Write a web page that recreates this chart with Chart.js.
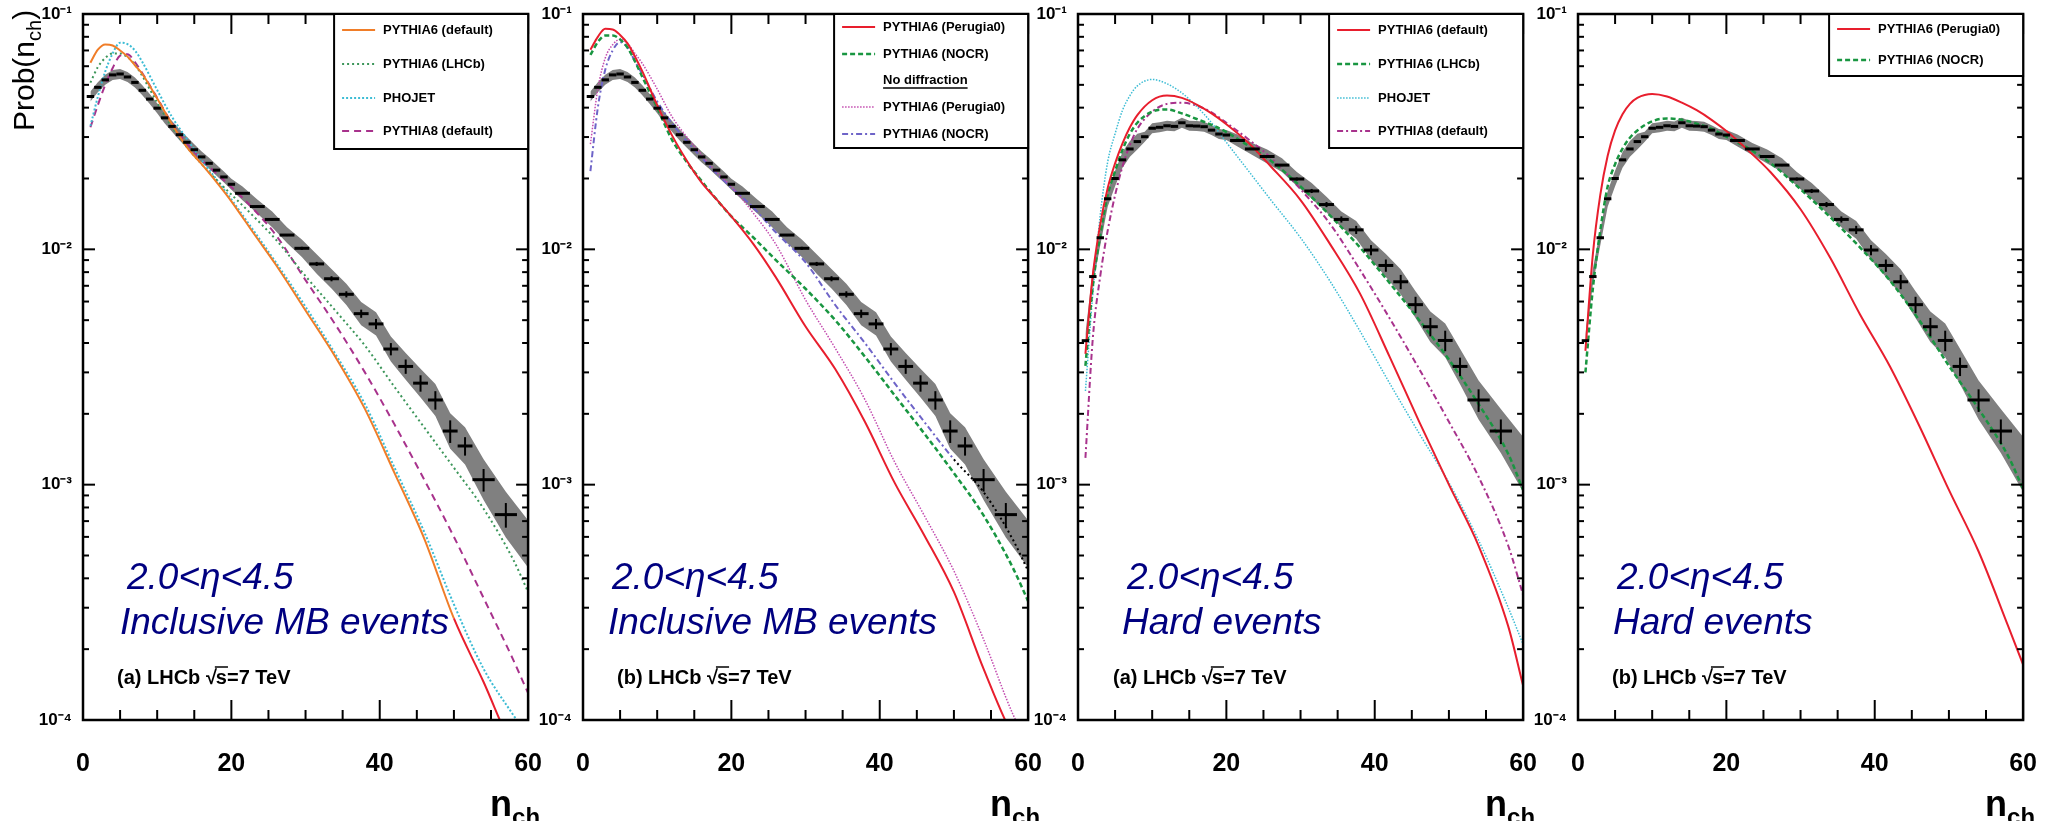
<!DOCTYPE html>
<html lang="en">
<head>
<meta charset="utf-8">
<title>LHCb charged multiplicity, 2.0&lt;η&lt;4.5</title>
<script src="https://cdn.jsdelivr.net/npm/chart.js@4.4.1/dist/chart.umd.min.js"></script>
<style>
  html, body { margin: 0; padding: 0; background: #fff; }
  #figure { position: relative; width: 2058px; height: 821px; overflow: hidden; }
  #figure canvas { position: absolute; top: 0; }
</style>
</head>
<body>
<div id="figure">
  <canvas id="panelA" width="563" height="821" style="left:0px"></canvas>
  <canvas id="panelB" width="563" height="821" style="left:500px"></canvas>
  <canvas id="panelC" width="563" height="821" style="left:995px"></canvas>
  <canvas id="panelD" width="563" height="821" style="left:1495px"></canvas>
</div>
<script>
// ---- measured distributions (bin centres / widths in n_ch) ----
const nchBins = [1, 2, 3, 4, 5, 6, 7, 8, 9, 10, 11, 12, 13, 14, 15, 16, 17, 18, 19, 20,
  21.5, 23.5, 25.5, 27.5, 29.5, 31.5, 33.5, 35.5, 37.5, 39.5, 41.5, 43.5, 45.5, 47.5, 49.5, 51.5, 54, 57];
const binWidth = [1, 1, 1, 1, 1, 1, 1, 1, 1, 1, 1, 1, 1, 1, 1, 1, 1, 1, 1, 1,
  2, 2, 2, 2, 2, 2, 2, 2, 2, 2, 2, 2, 2, 2, 2, 2, 3, 3];

// inclusive minimum bias events
const mbProb = [0.0446, 0.0488, 0.0525, 0.0551, 0.0556, 0.0540, 0.0512, 0.0474, 0.0435, 0.0398,
  0.0362, 0.0333, 0.0307, 0.0285, 0.0265, 0.0247, 0.0232, 0.0217, 0.0203, 0.0189,
  0.0173, 0.0152, 0.0134, 0.0115, 0.0101, 0.00867, 0.00750, 0.00644, 0.00533, 0.00482,
  0.00377, 0.00318, 0.00270, 0.00229, 0.00169, 0.00146, 0.00105, 0.000746];
const mbStat = [0.005, 0.005, 0.005, 0.005, 0.005, 0.005, 0.005, 0.005, 0.005, 0.005,
  0.005, 0.005, 0.005, 0.005, 0.005, 0.005, 0.005, 0.005, 0.005, 0.005,
  0.008, 0.008, 0.01, 0.01, 0.015, 0.02, 0.025, 0.03, 0.04, 0.05,
  0.06, 0.07, 0.08, 0.09, 0.11, 0.09, 0.11, 0.12];
const mbSyst = [1.05, 1.05, 1.05, 1.05, 1.05, 1.05, 1.05, 1.05, 1.05, 1.05,
  1.055, 1.055, 1.055, 1.055, 1.055, 1.055, 1.055, 1.055, 1.055, 1.055,
  1.07, 1.07, 1.08, 1.08, 1.09, 1.10, 1.10, 1.11, 1.12, 1.12,
  1.13, 1.14, 1.15, 1.17, 1.19, 1.20, 1.22, 1.25];
const mbBandEnd = [0.00056, 1.26];      // band value and spread at n_ch = 60

// hard events
const hardProb = [0.00409, 0.00766, 0.0112, 0.0164, 0.0200, 0.0240, 0.0267, 0.0287, 0.0301, 0.0327,
  0.0330, 0.0335, 0.0333, 0.0345, 0.0335, 0.0334, 0.0332, 0.0321, 0.0309, 0.0306,
  0.0290, 0.0267, 0.0248, 0.0228, 0.0199, 0.0177, 0.0155, 0.0134, 0.0121, 0.00993,
  0.00854, 0.00728, 0.00582, 0.00469, 0.00410, 0.00318, 0.00229, 0.00169];
const hardStat = [0.005, 0.005, 0.005, 0.005, 0.005, 0.005, 0.005, 0.005, 0.005, 0.005,
  0.005, 0.005, 0.005, 0.005, 0.005, 0.005, 0.005, 0.005, 0.005, 0.005,
  0.008, 0.008, 0.01, 0.01, 0.015, 0.02, 0.025, 0.03, 0.04, 0.05,
  0.06, 0.07, 0.08, 0.09, 0.10, 0.09, 0.11, 0.12];
const hardSyst = [1.07, 1.08, 1.08, 1.08, 1.08, 1.08, 1.08, 1.08, 1.05, 1.05,
  1.05, 1.05, 1.05, 1.05, 1.05, 1.05, 1.05, 1.05, 1.05, 1.05,
  1.06, 1.06, 1.07, 1.07, 1.07, 1.08, 1.08, 1.08, 1.09, 1.10,
  1.12, 1.13, 1.14, 1.16, 1.18, 1.19, 1.21, 1.24];
const hardBandEnd = [0.00122, 1.31];
const bandEndX = 60;

// ---- generator predictions ----
const curveN = [1, 2, 3, 4, 5, 6, 7, 8, 10, 12, 14, 16, 18, 20, 23, 26, 30, 34, 38, 42, 46, 50, 54, 58, 60];

const mbPythia6Default = [0.0621, 0.0705, 0.0742, 0.0735, 0.0700, 0.0659, 0.0605, 0.0556, 0.0437, 0.0340, 0.0272, 0.0230, 0.0193,
  0.0160, 0.0117, 0.0086, 0.0055, 0.0035, 0.0021, 0.00112, 0.00059, 0.00027, 0.000145, 0.000075, 0.00006];
const mbPythia6Lhcb = [0.0511, 0.0595, 0.0650, 0.0680, 0.0680, 0.0655, 0.0610, 0.0545, 0.0420, 0.0330, 0.0272, 0.0230, 0.0197,
  0.0171, 0.0138, 0.0110, 0.0077, 0.0055, 0.0039, 0.0026, 0.00175, 0.00118, 0.00079, 0.00048, 0.00035];
const mbPhojet = [0.0334, 0.0445, 0.0570, 0.0680, 0.0755, 0.0745, 0.0700, 0.0625, 0.0475, 0.0365, 0.0295, 0.0240, 0.0198,
  0.0163, 0.0120, 0.0088, 0.0057, 0.0036, 0.0022, 0.00118, 0.00063, 0.00031, 0.000165, 0.000105, 0.000085];
const mbPythia8 = [0.0330, 0.0410, 0.0500, 0.0590, 0.0665, 0.0675, 0.0625, 0.0560, 0.0440, 0.0343, 0.0282, 0.0240, 0.0210,
  0.0184, 0.0148, 0.0115, 0.0074, 0.0048, 0.0030, 0.0018, 0.00105, 0.00060, 0.00033, 0.00018, 0.00013];

const mbPerugia0 = [0.0705, 0.0800, 0.0865, 0.0860, 0.0815, 0.0750, 0.0660, 0.0570, 0.0410, 0.0305, 0.0238, 0.0192, 0.0163,
  0.0138, 0.0105, 0.0076, 0.0047, 0.0031, 0.00185, 0.00102, 0.00061, 0.00035, 0.000165, 0.000085, 0.00007];
const mbNocr = [0.0670, 0.0760, 0.0810, 0.0810, 0.0780, 0.0720, 0.0630, 0.0540, 0.0400, 0.0292, 0.0235, 0.0195, 0.0163,
  0.0138, 0.0112, 0.0090, 0.0068, 0.0050, 0.0035, 0.0024, 0.00165, 0.00112, 0.00074, 0.00044, 0.00032];
const mbPerugia0NoDiff = [0.0280, 0.0480, 0.0650, 0.0740, 0.0780, 0.0750, 0.0680, 0.0616, 0.0480, 0.0366, 0.0300, 0.0252, 0.0213,
  0.0185, 0.0142, 0.0105, 0.0061, 0.0038, 0.0023, 0.00125, 0.00074, 0.00043, 0.00022, 0.000105, 0.00008];
const mbNocrNoDiff = [0.0215, 0.0400, 0.0580, 0.0700, 0.0760, 0.0720, 0.0630, 0.0555, 0.0425, 0.0343, 0.0288, 0.0245, 0.0210,
  0.0183, 0.0150, 0.0118, 0.0088, 0.0058, 0.0040, 0.0027, 0.00185, 0.00128, 0.00093, 0.00058, 0.00043];

const hardPythia6Default = [0.0036, 0.0078, 0.0128, 0.0182, 0.0232, 0.0282, 0.0330, 0.0372, 0.0430, 0.0450, 0.0440, 0.0412, 0.0378,
  0.0340, 0.0283, 0.0225, 0.0162, 0.0105, 0.0065, 0.0035, 0.00185, 0.00100, 0.00055, 0.00025, 0.00014];
const hardPythia6Lhcb = [0.0032, 0.0070, 0.0115, 0.0170, 0.0215, 0.0265, 0.0310, 0.0345, 0.0385, 0.0393, 0.0378, 0.0358, 0.0338,
  0.0315, 0.0275, 0.0238, 0.0185, 0.0139, 0.0102, 0.0072, 0.0050, 0.0034, 0.0022, 0.00135, 0.00095];
const hardPhojet = [0.0025, 0.0065, 0.0140, 0.0235, 0.0310, 0.0390, 0.0450, 0.0495, 0.0527, 0.0505, 0.0462, 0.0405, 0.0345,
  0.0285, 0.0215, 0.0162, 0.0112, 0.0073, 0.0045, 0.0027, 0.00165, 0.00102, 0.00058, 0.00030, 0.00021];
const hardPythia8 = [0.0013, 0.0042, 0.0077, 0.0120, 0.0170, 0.0225, 0.0278, 0.0325, 0.0385, 0.0415, 0.0420, 0.0408, 0.0382,
  0.0345, 0.0293, 0.0245, 0.0180, 0.0128, 0.0082, 0.0051, 0.0031, 0.00185, 0.00108, 0.00055, 0.00034];

const hardPerugia0 = [0.0037, 0.0095, 0.0170, 0.0250, 0.0320, 0.0375, 0.0415, 0.0440, 0.0457, 0.0446, 0.0420, 0.0390, 0.0355,
  0.0318, 0.0262, 0.0212, 0.0148, 0.0092, 0.0053, 0.0032, 0.00178, 0.00095, 0.00052, 0.00025, 0.000172];
const hardNocr = [0.0030, 0.0068, 0.0120, 0.0185, 0.0230, 0.0268, 0.0298, 0.0320, 0.0350, 0.0360, 0.0355, 0.0342, 0.0325,
  0.0301, 0.0268, 0.0232, 0.0180, 0.0137, 0.0102, 0.0074, 0.0050, 0.0032, 0.0021, 0.00132, 0.00096];

// axis ticks
const xTickValues = [0, 20, 40, 60];
const yDecades = [1e-4, 1e-3, 1e-2, 1e-1];

// ---- styling ----
const FONT = '"Liberation Sans", Arial, Helvetica, sans-serif';
Chart.defaults.font.family = FONT;

const C = {
  orange: 'rgb(240,125,40)',
  red: 'rgb(232,30,45)',
  green: 'rgb(25,150,65)',
  greenDot: 'rgb(60,150,90)',
  cyan: 'rgb(60,188,212)',
  magenta: 'rgb(168,50,140)',
  pink: 'rgb(195,75,175)',
  violet: 'rgb(110,100,200)',
  band: 'rgb(128,128,128)',
  navy: 'rgb(0,0,128)'
};

const SUP = { '-': '⁻', '0': '⁰', '1': '¹', '2': '²', '3': '³', '4': '⁴', '5': '⁵', '6': '⁶', '7': '⁷', '8': '⁸', '9': '⁹' };
function decadeLabel(v) {
  return '10' + String(Math.round(Math.log10(v))).split('').map(c => SUP[c]).join('');
}

function curve(key, values, style) {
  return Object.assign({
    key: key,
    data: curveN.map((x, i) => ({ x: x, y: values[i] })),
    pointRadius: 0,
    borderWidth: 2,
    fill: false,
    cubicInterpolationMode: 'monotone',
    order: 1
  }, style);
}

function dataSet(prob, stat) {
  return {
    key: 'data',
    errorBars: true,
    showLine: false,
    pointRadius: 0,
    order: 0,
    data: nchBins.map((x, i) => ({
      x: x, y: prob[i],
      xMin: x - binWidth[i] / 2, xMax: x + binWidth[i] / 2,
      yMin: prob[i] * (1 - stat[i]), yMax: prob[i] * (1 + stat[i])
    }))
  };
}

// systematic band: upper edge filled down to lower edge
function bandSets(prob, syst, end) {
  const hi = nchBins.map((x, i) => ({ x: x, y: prob[i] * syst[i] }));
  const lo = nchBins.map((x, i) => ({ x: x, y: prob[i] / syst[i] }));
  hi.push({ x: bandEndX, y: end[0] * end[1] });
  lo.push({ x: bandEndX, y: end[0] / end[1] });
  return [
    { key: 'bandHi', data: hi, pointRadius: 0, borderWidth: 0, borderColor: 'rgba(0,0,0,0)', backgroundColor: C.band, fill: '+1', order: 5 },
    { key: 'bandLo', data: lo, pointRadius: 0, borderWidth: 0, borderColor: 'rgba(0,0,0,0)', fill: false, order: 5 }
  ];
}

function strokeLine(ctx, x0, y0, x1, y1) {
  ctx.beginPath();
  ctx.moveTo(x0, y0);
  ctx.lineTo(x1, y1);
  ctx.stroke();
}

const rootStyle = {
  id: 'rootStyle',
  afterDatasetsDraw(chart) {
    const ctx = chart.ctx, a = chart.chartArea;
    const xs = chart.scales.x, ys = chart.scales.y;
    ctx.save();
    ctx.beginPath();
    ctx.rect(a.left, a.top, a.right - a.left, a.bottom - a.top);
    ctx.clip();
    ctx.strokeStyle = '#000';
    chart.data.datasets.forEach(ds => {
      if (!ds.errorBars) return;
      ds.data.forEach(p => {
        const xc = xs.getPixelForValue(p.x), yc = ys.getPixelForValue(p.y);
        ctx.lineWidth = 3;
        strokeLine(ctx, xs.getPixelForValue(p.xMin), yc, xs.getPixelForValue(p.xMax), yc);
        ctx.lineWidth = 2;
        strokeLine(ctx, xc, ys.getPixelForValue(p.yMax), xc, ys.getPixelForValue(p.yMin));
      });
    });
    ctx.restore();
  },
  afterDraw(chart, args, opts) {
    const ctx = chart.ctx, a = chart.chartArea;
    const xs = chart.scales.x, ys = chart.scales.y;
    ctx.save();
    ctx.strokeStyle = '#000';
    ctx.lineWidth = 2;
    // ROOT-like inward ticks on all sides
    for (let v = 0; v <= 60; v += 5) {
      const px = xs.getPixelForValue(v);
      const len = v % 20 === 0 ? 20 : 10;
      strokeLine(ctx, px, a.bottom, px, a.bottom - len);
      strokeLine(ctx, px, a.top, px, a.top + len);
    }
    for (let e = -4; e <= -1; e++) {
      for (let m = 1; m <= 9; m++) {
        const v = m * Math.pow(10, e);
        if (v > 0.1 + 1e-12) break;
        const py = ys.getPixelForValue(v);
        const len = m === 1 ? 12 : 6;
        strokeLine(ctx, a.left, py, a.left + len, py);
        strokeLine(ctx, a.right, py, a.right - len, py);
      }
    }
    ctx.lineWidth = 2.5;
    ctx.strokeRect(a.left, a.top, a.right - a.left, a.bottom - a.top);

    // legend box
    const lg = opts.legend;
    const bw = 194, bx = a.right - bw, by = a.top;
    ctx.fillStyle = '#fff';
    ctx.fillRect(bx, by, bw, lg.height);
    ctx.lineWidth = 2;
    ctx.strokeRect(bx, by, bw, lg.height);
    ctx.font = 'bold 13px ' + FONT;
    ctx.textAlign = 'left';
    ctx.textBaseline = 'middle';
    lg.rows.forEach(r => {
      const y = by + r.y;
      if (r.key) {
        const ds = chart.data.datasets.find(d => d.key === r.key);
        ctx.save();
        ctx.strokeStyle = ds.borderColor;
        ctx.lineWidth = ds.borderWidth;
        ctx.setLineDash(ds.borderDash || []);
        strokeLine(ctx, bx + 8, y, bx + 41, y);
        ctx.restore();
      }
      ctx.fillStyle = '#000';
      ctx.fillText(r.text, bx + 49, y);
      if (r.underline) {
        const w = ctx.measureText(r.text).width;
        ctx.lineWidth = 1.3;
        strokeLine(ctx, bx + 49, y + 8, bx + 49 + w, y + 8);
      }
    });

    // in-plot annotations
    const n = opts.notes;
    ctx.textBaseline = 'alphabetic';
    ctx.fillStyle = C.navy;
    ctx.font = 'italic 37px ' + FONT;
    ctx.fillText('2.0<η<4.5', a.left + n.rangeDx, 589);
    ctx.fillText(n.kind, a.left + n.kindDx, 634);

    ctx.fillStyle = '#000';
    ctx.font = 'bold 20px ' + FONT;
    let tx = a.left + n.tagDx;
    const ty = 684;
    const pre = n.tag + ' LHCb ';
    ctx.fillText(pre, tx, ty);
    tx += ctx.measureText(pre).width;
    ctx.fillText('√', tx, ty);
    tx += ctx.measureText('√').width - 1;
    const sw = ctx.measureText('s').width;
    ctx.fillText('s', tx, ty);
    ctx.lineWidth = 1.5;
    strokeLine(ctx, tx - 1, ty - 17, tx + sw + 1, ty - 17);
    tx += sw;
    ctx.fillText('=7 TeV', tx, ty);

    // x-axis title
    ctx.font = 'bold 36px ' + FONT;
    let nx = a.right - 38;
    ctx.fillText('n', nx, 816);
    nx += ctx.measureText('n').width;
    ctx.font = 'bold 24px ' + FONT;
    ctx.fillText('ch', nx, 825);

    // y-axis title (first panel only)
    if (opts.yTitle) {
      ctx.save();
      ctx.translate(34, 131);
      ctx.rotate(-Math.PI / 2);
      ctx.font = '30px ' + FONT;
      ctx.fillText('Prob(n', 0, 0);
      let w = ctx.measureText('Prob(n').width;
      ctx.font = '20px ' + FONT;
      ctx.fillText('ch', w, 7);
      w += ctx.measureText('ch').width;
      ctx.font = '30px ' + FONT;
      ctx.fillText(')', w, 0);
      ctx.restore();
    }
    ctx.restore();
  }
};

function buildPanel(p) {
  const datasets = [dataSet(p.prob, p.stat)].concat(p.curves, bandSets(p.prob, p.syst, p.bandEnd));
  return new Chart(document.getElementById(p.canvas), {
    type: 'line',
    data: { datasets: datasets },
    options: {
      responsive: false,
      animation: false,
      devicePixelRatio: 1,
      events: [],
      layout: { padding: { left: 0, right: 33, top: 14, bottom: 0 } },
      plugins: {
        legend: { display: false },
        tooltip: { enabled: false },
        rootStyle: { legend: p.legend, notes: p.notes, yTitle: p.yTitle }
      },
      scales: {
        x: {
          type: 'linear', min: 0, max: 60,
          grid: { display: false }, border: { display: false },
          afterBuildTicks: s => { s.ticks = xTickValues.map(v => ({ value: v })); },
          afterFit: s => { s.height = 101; },
          ticks: { color: '#000', font: { size: 25, weight: 'bold' }, padding: 21, maxRotation: 0, autoSkip: false }
        },
        y: {
          type: 'logarithmic', min: 1e-4, max: 1e-1,
          grid: { display: false }, border: { display: false },
          afterBuildTicks: s => { s.ticks = yDecades.map(v => ({ value: v })); },
          afterFit: s => { s.width = 83; },
          ticks: { color: '#000', font: { size: 17, weight: 'bold' }, padding: 3, callback: v => decadeLabel(v) }
        }
      }
    },
    plugins: [rootStyle]
  });
}

const past50 = c => c.p0.parsed.x >= 50;

buildPanel({
  canvas: 'panelA', yTitle: true,
  prob: mbProb, stat: mbStat, syst: mbSyst, bandEnd: mbBandEnd,
  curves: [
    curve('p6def', mbPythia6Default, { borderColor: C.orange, segment: { borderColor: c => past50(c) ? C.red : undefined } }),
    curve('p6lhcb', mbPythia6Lhcb, { borderColor: C.greenDot, borderDash: [2, 3] }),
    curve('phojet', mbPhojet, { borderColor: C.cyan, borderDash: [2, 2] }),
    curve('p8', mbPythia8, { borderColor: C.magenta, borderDash: [7, 5] })
  ],
  legend: { height: 135, rows: [
    { key: 'p6def', text: 'PYTHIA6 (default)', y: 16 },
    { key: 'p6lhcb', text: 'PYTHIA6 (LHCb)', y: 50 },
    { key: 'phojet', text: 'PHOJET', y: 84 },
    { key: 'p8', text: 'PYTHIA8 (default)', y: 117 }
  ] },
  notes: { kind: 'Inclusive MB events', rangeDx: 44, kindDx: 37, tag: '(a)', tagDx: 34 }
});

buildPanel({
  canvas: 'panelB', yTitle: false,
  prob: mbProb, stat: mbStat, syst: mbSyst, bandEnd: mbBandEnd,
  curves: [
    curve('per0', mbPerugia0, { borderColor: C.red }),
    curve('nocr', mbNocr, { borderColor: C.green, borderDash: [5, 3], borderWidth: 2.5 }),
    curve('per0nd', mbPerugia0NoDiff, { borderColor: C.pink, borderDash: [1.5, 1.5], borderWidth: 1.5 }),
    curve('nocrnd', mbNocrNoDiff, { borderColor: C.violet, borderDash: [6, 3, 2, 3],
      segment: { borderColor: c => past50(c) ? '#000' : undefined, borderDash: c => past50(c) ? [2, 3] : undefined } })
  ],
  legend: { height: 134, rows: [
    { key: 'per0', text: 'PYTHIA6 (Perugia0)', y: 13 },
    { key: 'nocr', text: 'PYTHIA6 (NOCR)', y: 40 },
    { text: 'No diffraction', y: 66, underline: true },
    { key: 'per0nd', text: 'PYTHIA6 (Perugia0)', y: 93 },
    { key: 'nocrnd', text: 'PYTHIA6 (NOCR)', y: 120 }
  ] },
  notes: { kind: 'Inclusive MB events', rangeDx: 29, kindDx: 25, tag: '(b)', tagDx: 34 }
});

buildPanel({
  canvas: 'panelC', yTitle: false,
  prob: hardProb, stat: hardStat, syst: hardSyst, bandEnd: hardBandEnd,
  curves: [
    curve('p6def', hardPythia6Default, { borderColor: C.red }),
    curve('p6lhcb', hardPythia6Lhcb, { borderColor: C.green, borderDash: [5, 3], borderWidth: 2.5 }),
    curve('phojet', hardPhojet, { borderColor: C.cyan, borderDash: [1.5, 1.5], borderWidth: 1.5 }),
    curve('p8', hardPythia8, { borderColor: C.magenta, borderDash: [6, 3, 2, 3] })
  ],
  legend: { height: 134, rows: [
    { key: 'p6def', text: 'PYTHIA6 (default)', y: 16 },
    { key: 'p6lhcb', text: 'PYTHIA6 (LHCb)', y: 50 },
    { key: 'phojet', text: 'PHOJET', y: 84 },
    { key: 'p8', text: 'PYTHIA8 (default)', y: 117 }
  ] },
  notes: { kind: 'Hard events', rangeDx: 49, kindDx: 44, tag: '(a)', tagDx: 35 }
});

buildPanel({
  canvas: 'panelD', yTitle: false,
  prob: hardProb, stat: hardStat, syst: hardSyst, bandEnd: hardBandEnd,
  curves: [
    curve('per0', hardPerugia0, { borderColor: C.red }),
    curve('nocr', hardNocr, { borderColor: C.green, borderDash: [5, 3], borderWidth: 2.5 })
  ],
  legend: { height: 62, rows: [
    { key: 'per0', text: 'PYTHIA6 (Perugia0)', y: 15 },
    { key: 'nocr', text: 'PYTHIA6 (NOCR)', y: 46 }
  ] },
  notes: { kind: 'Hard events', rangeDx: 39, kindDx: 35, tag: '(b)', tagDx: 34 }
});
</script>
</body>
</html>
